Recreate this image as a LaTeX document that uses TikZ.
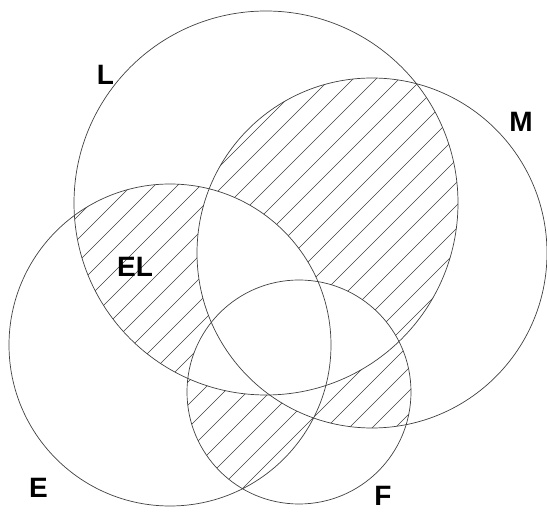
\documentclass[tikz,border=0pt]{standalone}
\usepackage{fontspec}
\setmainfont{Liberation Sans}
\begin{document}
\begin{tikzpicture}[x=1pt,y=-1pt,
  ring/.style={draw=black!75,line width=0.7pt},
  hatchline/.style={draw=black!75,line width=0.55pt},
  lbl/.style={inner sep=0pt,font=\fontsize{28}{28}\selectfont\bfseries}]
\useasboundingbox (0,0) rectangle (547,513);
\def\Lc{(266,203) circle[radius=192pt]}
\def\Mc{(372,253) circle[radius=175pt]}
\def\Ec{(170,345) circle[radius=161pt]}
\def\Fc{(299,392) circle[radius=112pt]}
\def\BigR{(-20,-20) rectangle (570,540)}
\newcommand{\hatchlines}{\foreach \c in {-189,-166,...,1150} {\draw[hatchline] (\c,0) -- (\c-600,600);}}
% L and M only
\begin{scope}[even odd rule]
 \clip \Lc; \clip \Mc;
 \clip \BigR \Ec;
 \clip \BigR \Fc;
 \hatchlines
\end{scope}
% L and E only
\begin{scope}[even odd rule]
 \clip \Lc; \clip \Ec;
 \clip \BigR \Mc;
 \clip \BigR \Fc;
 \hatchlines
\end{scope}
% M and F only
\begin{scope}[even odd rule]
 \clip \Mc; \clip \Fc;
 \clip \BigR \Lc;
 \clip \BigR \Ec;
 \hatchlines
\end{scope}
% E and F only
\begin{scope}[even odd rule]
 \clip \Ec; \clip \Fc;
 \clip \BigR \Lc;
 \clip \BigR \Mc;
 \hatchlines
\end{scope}
\draw[ring] \Lc;
\draw[ring] \Mc;
\draw[ring] \Ec;
\draw[ring] \Fc;
\node[lbl] (labL) at (105.5,75) {L};
\node[lbl] (labM) at (521,122) {M};
\node[lbl] (labE) at (38.5,488) {E};
\node[lbl] (labF) at (383,496) {F};
\node[lbl] (labEL) at (135,266.5) {EL};
\end{tikzpicture}
\end{document}
